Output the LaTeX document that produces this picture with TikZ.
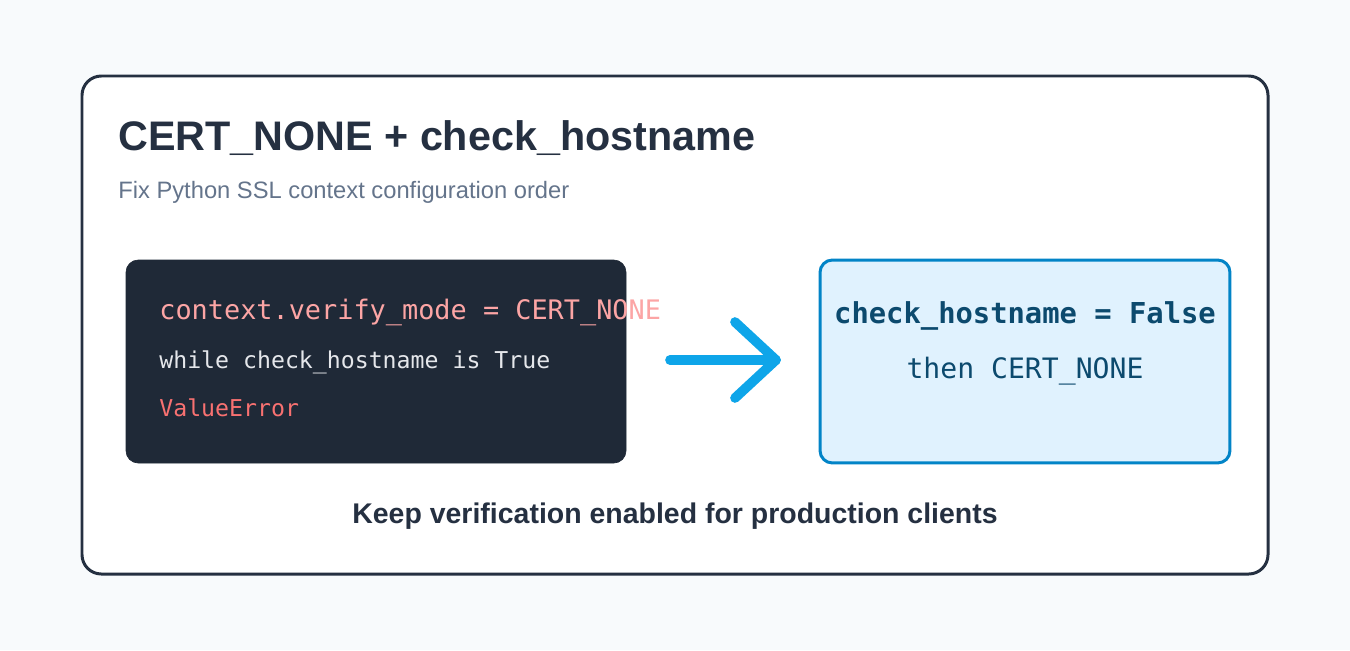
\documentclass[tikz,border=0pt]{standalone}
\usepackage{fontspec}
\setmainfont{Liberation Sans}
\setmonofont{DejaVu Sans Mono}
\usetikzlibrary{positioning}
\definecolor{pagebg}{HTML}{F8FAFC}
\definecolor{cardline}{HTML}{253041}
\definecolor{subgrey}{HTML}{64748B}
\definecolor{codebg}{HTML}{1F2937}
\definecolor{codepink}{HTML}{FCA5A5}
\definecolor{codelight}{HTML}{E5E7EB}
\definecolor{codered}{HTML}{F87171}
\definecolor{arrowblue}{HTML}{0EA5E9}
\definecolor{fixbg}{HTML}{E0F2FE}
\definecolor{fixline}{HTML}{0284C7}
\definecolor{fixtext}{HTML}{0C4A6E}
\tikzset{
  codeline/.style={anchor=base west, inner sep=0pt, font=\ttfamily\fontsize{15.3}{18}\selectfont},
  fixline/.style={anchor=base, inner sep=0pt, text=fixtext, font=\ttfamily\fontsize{16}{19}\selectfont},
}
\begin{document}
\begin{tikzpicture}[x=0.02cm, y=-0.02cm]
    \fill[pagebg] (0,0) rectangle (1350,650);
    \useasboundingbox (0,0) rectangle (1350,650);
    \draw[cardline, line width=1.7pt, fill=white, rounded corners=11pt] (82,76) rectangle (1268,574);
    \node[anchor=base west, inner sep=0pt, text=cardline, font=\bfseries\fontsize{23.5}{28}\selectfont] (title) at (118,150) {CERT\_NONE + check\_hostname};
    \node[anchor=base west, inner sep=0pt, text=subgrey, font=\fontsize{13.5}{16}\selectfont] (subtitle) at (118,198) {Fix Python SSL context configuration order};

    % broken setup
    \draw[codebg, fill=codebg, rounded corners=7pt] (126,260) rectangle (626,463);
    \node[codeline, text=codepink] (mode) at (159,319) {context.verify\_mode = CERT\_NONE};
    \node[codeline, text=codelight, font=\ttfamily\fontsize{13.2}{16}\selectfont] (while) at (159,368) {while check\_hostname is True};
    \node[codeline, text=codered, font=\ttfamily\fontsize{13.2}{16}\selectfont] (err) at (159,416) {ValueError};

    % fixed setup
    \node[draw=fixline, fill=fixbg, line width=1.7pt, rounded corners=7pt, minimum width=8.2cm, minimum height=4.06cm, inner sep=0pt] (fix) at (1025,361.5) {};
    \node[fixline, font=\ttfamily\bfseries\fontsize{16.4}{19}\selectfont] (fixa) at (1025,323) {check\_hostname = False};
    \node[fixline] (fixb) at (1025,378) {then CERT\_NONE};

    \coordinate (arrs) at (670,360);
    \coordinate (arre) at (776,360);
    \draw[arrowblue, line width=5.5pt, line cap=round, line join=round] (arrs) -- (arre);
    \draw[arrowblue, line width=5.5pt, line cap=round, line join=round] (735,322) -- (arre) -- (735,398);

    \node[anchor=base, inner sep=0pt, text=cardline, font=\bfseries\fontsize{16.2}{19}\selectfont] (note) at (675,523) {Keep verification enabled for production clients};
\end{tikzpicture}
\end{document}
